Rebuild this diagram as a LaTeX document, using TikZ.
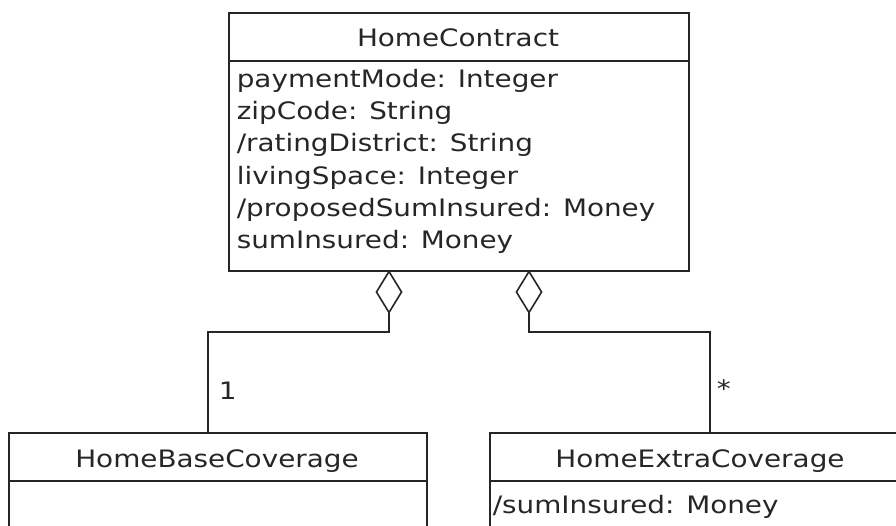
\documentclass[tikz,border=0pt]{standalone}
\usepackage{fontspec}
\setmainfont{DejaVu Sans}[FakeStretch=1.16]
\usetikzlibrary{arrows.meta}
\begin{document}
\begin{tikzpicture}[x=1pt,y=-1pt,
  line width=1.6pt,
  boxline/.style={draw=black!85, line width=1.6pt},
  cls/.style={boxline, fill=white, rectangle, inner sep=0pt, anchor=north west},
  ttl/.style={font=\fontsize{24}{30}\selectfont, text=black!85, anchor=base, inner sep=0pt},
  attr/.style={font=\fontsize{24}{32}\selectfont, text=black!85, anchor=base west, inner sep=0pt},
  mult/.style={font=\fontsize{24}{30}\selectfont, text=black!85, anchor=base west, inner sep=0pt},
  agg/.style={draw=black!85, line width=1.6pt, {Diamond[open, length=44pt, width=27pt, line width=1.6pt]}-}
]
\useasboundingbox (0,0) rectangle (896,526);
\clip (0,0) rectangle (896,526);
% HomeContract
\node[cls, minimum width=460, minimum height=258] (hc) at (228,12) {};
\draw[boxline] (228,61) -- (688,61);
\node[ttl] (hct) at (458,47) {HomeContract};
\node[attr] (a1) at (236,88) {paymentMode: Integer};
\node[attr] (a2) at (236,120) {zipCode: String};
\node[attr] (a3) at (236,152) {/ratingDistrict: String};
\node[attr] (a4) at (236,185) {livingSpace: Integer};
\node[attr] (a5) at (236,217) {/proposedSumInsured: Money};
\node[attr] (a6) at (236,249) {sumInsured: Money};
% HomeBaseCoverage
\node[cls, minimum width=418, minimum height=140] (hb) at (8,432) {};
\draw[boxline] (8,481) -- (426,481);
\node[ttl] (hbt) at (217,467) {HomeBaseCoverage};
% HomeExtraCoverage
\node[cls, minimum width=460, minimum height=140] (he) at (489,432) {};
\draw[boxline] (489,481) -- (949,481);
\node[ttl] (het) at (700,467) {HomeExtraCoverage};
\node[attr] (e1) at (492,513) {/sumInsured: Money};
% connectors
\coordinate (s1) at (389,270);
\coordinate (k1) at (208,332);
\coordinate (s2) at (529,270);
\coordinate (k2) at (710,332);
\draw[agg] (s1) |- (k1) -- (k1 |- hb.north);
\draw[agg] (s2) |- (k2) -- (k2 |- he.north);
\node[mult] (m1) at (218,399) {1};
\node[mult] (m2) at (716,397) {*};
\end{tikzpicture}
\end{document}
